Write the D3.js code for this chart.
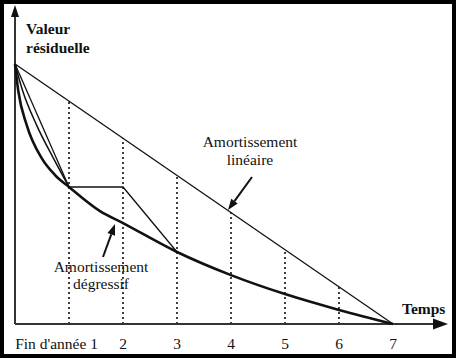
<!DOCTYPE html>
<html><head><meta charset="utf-8">
<script src="https://cdn.jsdelivr.net/npm/d3@7"></script>
<style>body{margin:0;background:#000}svg{display:block}</style>
</head><body>
<script>
// Data (t = years, v = residual value as fraction of initial value)
const yearLabels = ["Fin d'année 1", "2", "3", "4", "5", "6", "7"];
const yearTicks = [1, 2, 3, 4, 5, 6, 7];
const linearT = [0, 7];
const linearV = [1, 0];
const degressiveT = [0, 0.061, 0.217, 0.494, 0.741, 1, 1.574, 2, 3, 4, 5, 6, 7];
const degressiveV = [1, 0.896, 0.765, 0.638, 0.573, 0.527, 0.434, 0.388, 0.277, 0.188, 0.115, 0.054, 0];
const middleT = [0, 0.143, 0.40, 0.71, 1];
const middleV = [1, 0.896, 0.765, 0.638, 0.527];
const chordT = [0, 1];
const chordV = [1, 0.527];
const switchT = [1, 2, 3];
const switchV = [0.527, 0.527, 0.277];

const W = 456, H = 358;
const svg = d3.select("body").append("svg").attr("width", W).attr("height", H);
svg.append("rect").attr("width", W).attr("height", H).attr("fill", "#000");
svg.append("rect").attr("x", 4).attr("y", 4).attr("width", 448).attr("height", 350).attr("fill", "#fff");

const x = d3.scaleLinear().domain([0, 7]).range([15, 393]);
const y = d3.scaleLinear().domain([0, 1]).range([324, 64]);
const serif = "'Liberation Serif','Times New Roman',serif";
const ink = "#111";

const zip = (a, b) => a.map((d, i) => [d, b[i]]);
const lineStraight = d3.line().x(d => x(d[0])).y(d => y(d[1]));
const lineCurve = d3.line().x(d => x(d[0])).y(d => y(d[1])).curve(d3.curveMonotoneX);

// dotted verticals up to linear line
svg.append("g").selectAll("line").data(yearTicks.slice(0, 6)).join("line")
  .attr("x1", d => x(d)).attr("x2", d => x(d))
  .attr("y1", y(0)).attr("y2", d => y(1 - d / 7))
  .attr("stroke", ink).attr("stroke-width", 1.6).attr("stroke-dasharray", "2,3");

// axes
svg.append("line").attr("x1", x(0)).attr("x2", 436).attr("y1", y(0)).attr("y2", y(0))
  .attr("stroke", "#333").attr("stroke-width", 2);
svg.append("path").attr("d", `M448,${y(0)} L433,${y(0) - 5.5} L433,${y(0) + 5.5} Z`).attr("fill", "#111");
svg.append("line").attr("x1", x(0)).attr("x2", x(0)).attr("y1", y(0)).attr("y2", 16)
  .attr("stroke", "#333").attr("stroke-width", 2);
svg.append("path").attr("d", `M${x(0)},5 L${x(0) - 4},17 L${x(0) + 4},17 Z`).attr("fill", "#111");

// lines
svg.append("path").attr("d", lineStraight(zip(linearT, linearV))).attr("fill", "none").attr("stroke", ink).attr("stroke-width", 1.3);
svg.append("path").attr("d", lineStraight(zip(chordT, chordV))).attr("fill", "none").attr("stroke", ink).attr("stroke-width", 1.3);
svg.append("path").attr("d", lineCurve(zip(middleT, middleV))).attr("fill", "none").attr("stroke", ink).attr("stroke-width", 1.5);
svg.append("path").attr("d", lineStraight(zip(switchT, switchV))).attr("fill", "none").attr("stroke", ink).attr("stroke-width", 1.3);
svg.append("path").attr("d", lineCurve(zip(degressiveT, degressiveV))).attr("fill", "none").attr("stroke", ink).attr("stroke-width", 2.6);

// arrows for annotations
function arrow(x1, y1, x2, y2) {
  const ang = Math.atan2(y2 - y1, x2 - x1);
  const L = 11, w = 4;
  const bx = x2 - L * Math.cos(ang), by = y2 - L * Math.sin(ang);
  svg.append("line").attr("x1", x1).attr("y1", y1).attr("x2", bx).attr("y2", by)
    .attr("stroke", ink).attr("stroke-width", 2);
  const px = -Math.sin(ang) * w, py = Math.cos(ang) * w;
  svg.append("path").attr("d", `M${x2},${y2} L${bx + px},${by + py} L${bx - px},${by - py} Z`).attr("fill", ink);
}
arrow(252, 177, 228, 210);
arrow(103, 257, 115, 224);

// texts
const txt = (s, tx, ty, opts = {}) => svg.append("text").attr("x", tx).attr("y", ty)
  .attr("font-family", serif).attr("font-size", opts.size || 15.5)
  .attr("font-weight", opts.bold ? "bold" : "normal")
  .attr("text-anchor", opts.anchor || "start").attr("fill", "#111").text(s);

txt("Valeur", 26, 34, {bold: true, size: 15.5});
txt("résiduelle", 26, 53, {bold: true, size: 15.5});
txt("Temps", 402, 314, {bold: true, size: 15.5});
txt("Amortissement", 250, 147, {anchor: "middle"});
txt("linéaire", 250, 165, {anchor: "middle"});
txt("Amortissement", 101, 272, {anchor: "middle"});
txt("dégressif", 101, 289, {anchor: "middle"});

// tick labels
yearTicks.forEach((t, i) => {
  if (i === 0) txt(yearLabels[i], x(t) + 29, 349, {anchor: "end"});
  else txt(yearLabels[i], x(t), 349, {anchor: "middle"});
});
</script>
</body></html>
